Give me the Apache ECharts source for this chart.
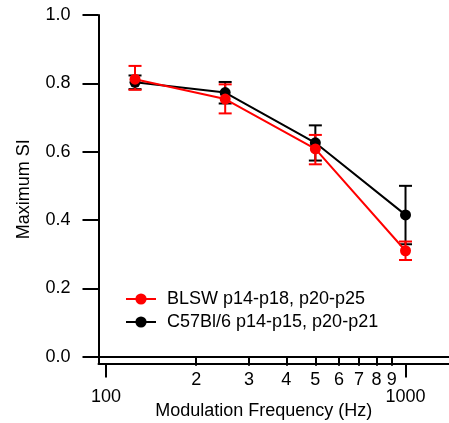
<!DOCTYPE html>
<html>
<head>
<meta charset="utf-8">
<script src="https://cdn.jsdelivr.net/npm/echarts@6/dist/echarts.min.js"></script>
<style>
  html, body { margin: 0; padding: 0; background: #fff; }
  #chart { width: 449px; height: 423px; }
</style>
</head>
<body>
<div id="chart"></div>
<script>
// modulation frequencies (Hz)
var freqs = [125, 250, 500, 1000];

// BLSW p14-p18, p20-p25
var blswMean = [0.812, 0.754, 0.608, 0.310];
var blswLow = [0.781, 0.712, 0.563, 0.283];
var blswHigh = [0.851, 0.797, 0.649, 0.337];

// C57Bl/6 p14-p15, p20-p21
var c57Mean = [0.803, 0.773, 0.626, 0.415];
var c57Low = [0.783, 0.741, 0.574, 0.329];
var c57High = [0.823, 0.804, 0.677, 0.500];

var yTicks = [0, 0.2, 0.4, 0.6, 0.8, 1.0];
var xMajorTicks = [100, 1000];
var xMinorTicks = [200, 300, 400, 500, 600, 700, 800, 900];

var FONT = 'Liberation Sans, Arial, sans-serif';

function pairs(xs, ys) {
    return xs.map(function (x, i) { return [x, ys[i]]; });
}
function bars(xs, lo, hi) {
    return xs.map(function (x, i) { return [x, lo[i], hi[i]]; });
}

function errorBars(color, data) {
    return {
        type: 'custom',
        data: data,
        silent: true,
        encode: { x: 0, y: [1, 2] },
        renderItem: function (params, api) {
            var lo = api.coord([api.value(0), api.value(1)]);
            var hi = api.coord([api.value(0), api.value(2)]);
            var w = 6.5;
            var st = { stroke: color, lineWidth: 2 };
            return {
                type: 'group',
                children: [
                    { type: 'line', shape: { x1: lo[0], y1: lo[1], x2: hi[0], y2: hi[1] }, style: st },
                    { type: 'line', shape: { x1: lo[0] - w, y1: lo[1], x2: lo[0] + w, y2: lo[1] }, style: st },
                    { type: 'line', shape: { x1: hi[0] - w, y1: hi[1], x2: hi[0] + w, y2: hi[1] }, style: st }
                ]
            };
        }
    };
}

function lineSeries(name, color, data) {
    return {
        name: name,
        type: 'line',
        data: data,
        symbol: 'circle',
        symbolSize: 11,
        lineStyle: { color: color, width: 2 },
        itemStyle: { color: color },
        emphasis: { disabled: true }
    };
}

var redName = 'BLSW p14-p18, p20-p25';
var blackName = 'C57Bl/6 p14-p15, p20-p21';

var chart = echarts.init(document.getElementById('chart'));
chart.setOption({
    animation: false,
    textStyle: { fontFamily: FONT },
    grid: { left: 98.5, right: 0, top: 15, bottom: 59.5, outerBoundsMode: 'none' },
    legend: {
        data: [redName, blackName],
        orient: 'vertical',
        left: 125,
        top: 290,
        padding: 0,
        itemWidth: 30,
        itemHeight: 14,
        itemGap: 5,
        textStyle: { fontSize: 18, color: '#000', fontFamily: FONT, padding: [0, 0, 0, 6] }
    },
    xAxis: [{
        type: 'log',
        min: 94.4,
        max: 1397,
        axisLine: { lineStyle: { color: '#000', width: 2 } },
        axisTick: { customValues: xMinorTicks, length: 9, lineStyle: { color: '#000', width: 2 } },
        axisLabel: {
            customValues: xMinorTicks,
            margin: 8,
            fontSize: 18,
            color: '#000',
            formatter: function (v) { return String(Math.round(v / 100)); }
        },
        splitLine: { show: false }
    }, {
        type: 'log',
        min: 94.4,
        max: 1397,
        position: 'bottom',
        name: 'Modulation Frequency (Hz)',
        nameLocation: 'middle',
        nameGap: 39,
        nameMoveOverlap: false,
        nameTextStyle: { fontSize: 18, color: '#000', padding: [0, 20, 0, 0] },
        axisLine: { lineStyle: { color: '#000', width: 2 } },
        axisTick: { customValues: xMajorTicks, length: 14, lineStyle: { color: '#000', width: 2 } },
        axisLabel: {
            customValues: xMajorTicks,
            margin: 25,
            fontSize: 18,
            color: '#000',
            formatter: function (v) { return String(Math.round(v)); }
        },
        splitLine: { show: false }
    }],
    yAxis: {
        type: 'value',
        min: -0.02,
        max: 1.0,
        name: 'Maximum SI',
        nameLocation: 'middle',
        nameGap: 65,
        nameTextStyle: { fontSize: 18, color: '#000' },
        axisLine: { show: true, lineStyle: { color: '#000', width: 2 } },
        axisTick: { customValues: yTicks, length: 16, lineStyle: { color: '#000', width: 2 } },
        axisLabel: {
            customValues: yTicks,
            margin: 28,
            fontSize: 18,
            color: '#000',
            formatter: function (v) { return v.toFixed(1); }
        },
        splitLine: { show: false }
    },
    series: [
        errorBars('#000', bars(freqs, c57Low, c57High)),
        lineSeries(blackName, '#000', pairs(freqs, c57Mean)),
        errorBars('#ff0000', bars(freqs, blswLow, blswHigh)),
        lineSeries(redName, '#ff0000', pairs(freqs, blswMean))
    ]
});
</script>
</body>
</html>
